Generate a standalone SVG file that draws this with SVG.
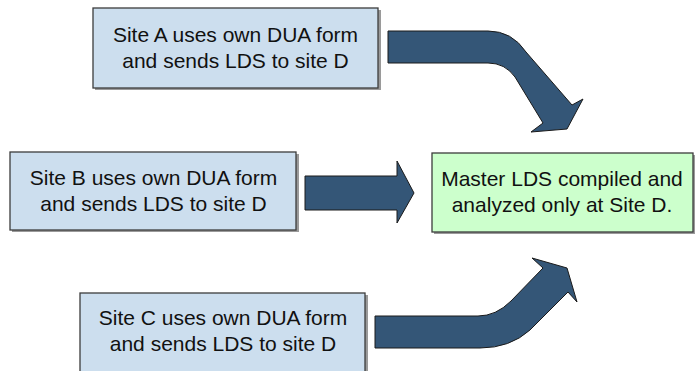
<svg xmlns="http://www.w3.org/2000/svg" width="696" height="371" viewBox="0 0 696 371">
<style>
.box{fill:#CCDEEE;stroke:#3c3c3c;stroke-width:1.3}
.green{fill:#CCFFCC;stroke:#3c3c3c;stroke-width:1.3}
.shadow{fill:#9a9a9a}
.arrow{fill:#345677;stroke:#1a1a1a;stroke-width:1}
text{font-family:"Liberation Sans",Arial,sans-serif;font-size:21px;fill:#111;text-anchor:middle}
</style>
<rect width="696" height="371" fill="#fff"/>
<g id="connectors">
<path class="arrow" d="M388,31 L488,31 Q512,31 526,52 L572,105 L583,99 L567,129 L531,132 L543,123 L515,77 Q505,63 488,63 L388,63 Z"/>
<path class="arrow" d="M305,176 L397,176 L397,161 L414,193 L397,223 L397,210 L305,210 Z"/>
<path class="arrow" d="M375,316 L478,316 Q496,316 511,301 L543,268 L532,258 L567,268 L577,302 L568,292 L530,330 Q510,348 480,348 L375,348 Z"/>
</g>
<g id="nodeA">
<rect class="shadow" x="95" y="10" width="286" height="80"/>
<rect class="box" x="93" y="8" width="285" height="80"/>
<text x="235.5" y="42">Site A uses own DUA form</text>
<text x="235.5" y="67.5">and sends LDS to site D</text>
</g>
<g id="nodeB">
<rect class="shadow" x="12" y="154" width="287" height="78"/>
<rect class="box" x="10" y="152" width="286" height="78"/>
<text x="153.5" y="185">Site B uses own DUA form</text>
<text x="153.5" y="210.5">and sends LDS to site D</text>
</g>
<g id="nodeC">
<rect class="shadow" x="82" y="295" width="286" height="90"/>
<rect class="box" x="80" y="293" width="285" height="90"/>
<text x="223" y="325">Site C uses own DUA form</text>
<text x="223" y="350.5">and sends LDS to site D</text>
</g>
<g id="nodeD">
<rect class="shadow" x="434" y="155" width="261" height="79"/>
<rect class="green" x="432" y="153" width="261" height="79"/>
<text x="562" y="186">Master LDS compiled and</text>
<text x="562" y="211.5">analyzed only at Site D.</text>
</g>
</svg>
